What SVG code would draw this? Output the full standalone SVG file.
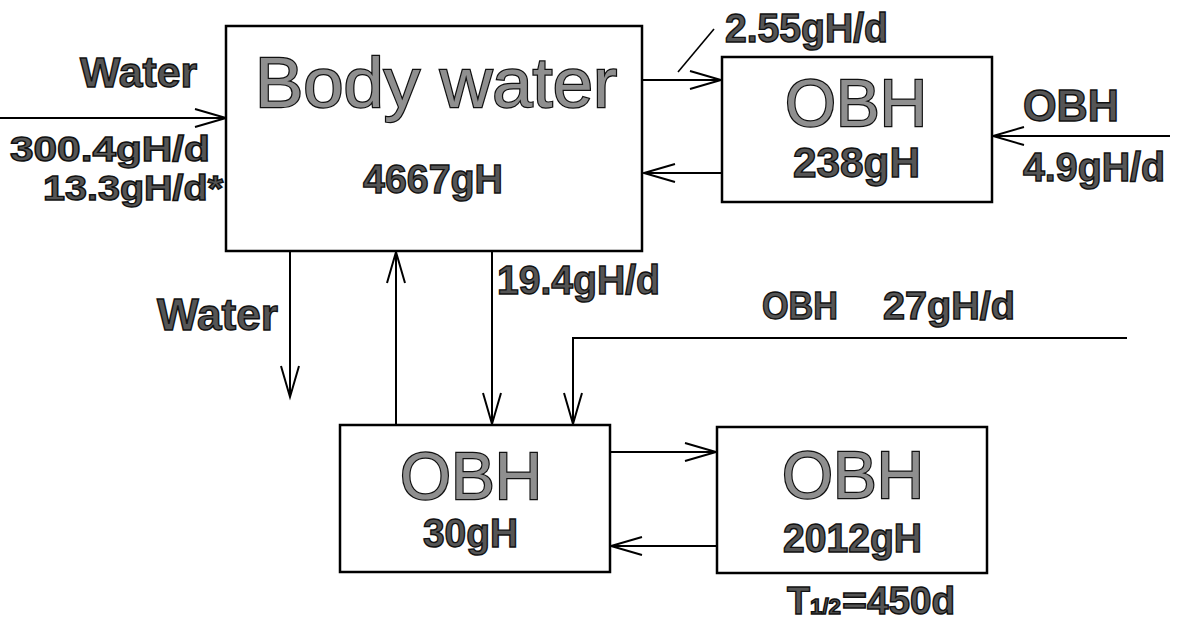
<svg xmlns="http://www.w3.org/2000/svg" width="1180" height="624" viewBox="0 0 1180 624">
<defs>
<style>
.box{fill:#fff;stroke:#000;stroke-width:2.5}
.ln{fill:none;stroke:#000;stroke-width:2;marker-end:url(#ah)}
.plain{fill:none;stroke:#000;stroke-width:1.6}
.big{font-family:"Liberation Sans",Arial,sans-serif;font-weight:normal;fill:#8f8f8f;stroke:#111;stroke-width:2.4;paint-order:stroke}
.lbl{font-family:"Liberation Sans",Arial,sans-serif;font-weight:bold;fill:#555;stroke:#111;stroke-width:1.4}
</style>
<marker id="ah" markerUnits="userSpaceOnUse" viewBox="-33 -11 35 22" refX="0" refY="0" markerWidth="35" markerHeight="22" orient="auto" overflow="visible">
<path d="M-31,-9 L0,0 L-31,9" fill="none" stroke="#000" stroke-width="2"/>
</marker>
</defs>
<rect width="1180" height="624" fill="#fff"/>

<g id="connectors">
<line class="ln" x1="0" y1="118" x2="226" y2="118"/>
<line class="ln" x1="642" y1="80" x2="721" y2="80"/>
<line class="ln" x1="722" y1="173" x2="644" y2="173"/>
<line class="ln" x1="1170" y1="136" x2="993" y2="136"/>
<line class="ln" x1="290" y1="251" x2="290" y2="397"/>
<line class="ln" x1="396" y1="425" x2="396" y2="252"/>
<line class="ln" x1="492" y1="251" x2="492" y2="424"/>
<polyline class="ln" points="1127,338 573,338 573,424"/>
<line class="ln" x1="610" y1="452" x2="716" y2="452"/>
<line class="ln" x1="717" y1="546" x2="611" y2="546"/>
<line class="plain" x1="678" y1="72" x2="714" y2="29"/>
</g>

<g id="body-water">
<rect class="box" x="226" y="26" width="416" height="225"/>
<text class="big" x="255" y="107" font-size="71" textLength="362" lengthAdjust="spacingAndGlyphs">Body water</text>
<text class="lbl" x="363" y="193" font-size="40" textLength="140" lengthAdjust="spacingAndGlyphs">4667gH</text>
</g>

<g id="obh-top">
<rect class="box" x="722" y="57" width="270" height="145"/>
<text class="big" x="785" y="126" font-size="66" textLength="142" lengthAdjust="spacingAndGlyphs">OBH</text>
<text class="lbl" x="793" y="177" font-size="42" textLength="127" lengthAdjust="spacingAndGlyphs">238gH</text>
</g>

<g id="obh-mid">
<rect class="box" x="340" y="425" width="270" height="147"/>
<text class="big" x="400" y="499" font-size="66" textLength="142" lengthAdjust="spacingAndGlyphs">OBH</text>
<text class="lbl" x="423" y="547" font-size="40" textLength="95" lengthAdjust="spacingAndGlyphs">30gH</text>
</g>

<g id="obh-store">
<rect class="box" x="717" y="427" width="270" height="146"/>
<text class="big" x="782" y="498" font-size="66" textLength="142" lengthAdjust="spacingAndGlyphs">OBH</text>
<text class="lbl" x="783" y="552" font-size="40" textLength="139" lengthAdjust="spacingAndGlyphs">2012gH</text>
<text class="lbl" x="787" y="614" font-size="38" textLength="23" lengthAdjust="spacingAndGlyphs">T</text>
<text class="lbl" x="810" y="614" font-size="22" textLength="31" lengthAdjust="spacingAndGlyphs">1/2</text>
<text class="lbl" x="842" y="614" font-size="38" textLength="25" lengthAdjust="spacingAndGlyphs">=</text>
<text class="lbl" x="867" y="614" font-size="38" textLength="88" lengthAdjust="spacingAndGlyphs">450d</text>
</g>

<g id="labels">
<text class="lbl" x="80" y="87" font-size="42" textLength="117" lengthAdjust="spacingAndGlyphs">Water</text>
<text class="lbl" x="10" y="161" font-size="35" textLength="200" lengthAdjust="spacingAndGlyphs">300.4gH/d</text>
<text class="lbl" x="43" y="200" font-size="35" textLength="180" lengthAdjust="spacingAndGlyphs">13.3gH/d*</text>
<text class="lbl" x="725" y="42" font-size="40" textLength="163" lengthAdjust="spacingAndGlyphs">2.55gH/d</text>
<text class="lbl" x="1023" y="121" font-size="44" textLength="96" lengthAdjust="spacingAndGlyphs">OBH</text>
<text class="lbl" x="1023" y="181" font-size="40" textLength="142" lengthAdjust="spacingAndGlyphs">4.9gH/d</text>
<text class="lbl" x="157" y="330" font-size="44" textLength="121" lengthAdjust="spacingAndGlyphs">Water</text>
<text class="lbl" x="497" y="294" font-size="41" textLength="163" lengthAdjust="spacingAndGlyphs">19.4gH/d</text>
<text class="lbl" x="762" y="319" font-size="38" textLength="76" lengthAdjust="spacingAndGlyphs">OBH</text>
<text class="lbl" x="883" y="319" font-size="38" textLength="132" lengthAdjust="spacingAndGlyphs">27gH/d</text>
</g>
</svg>
